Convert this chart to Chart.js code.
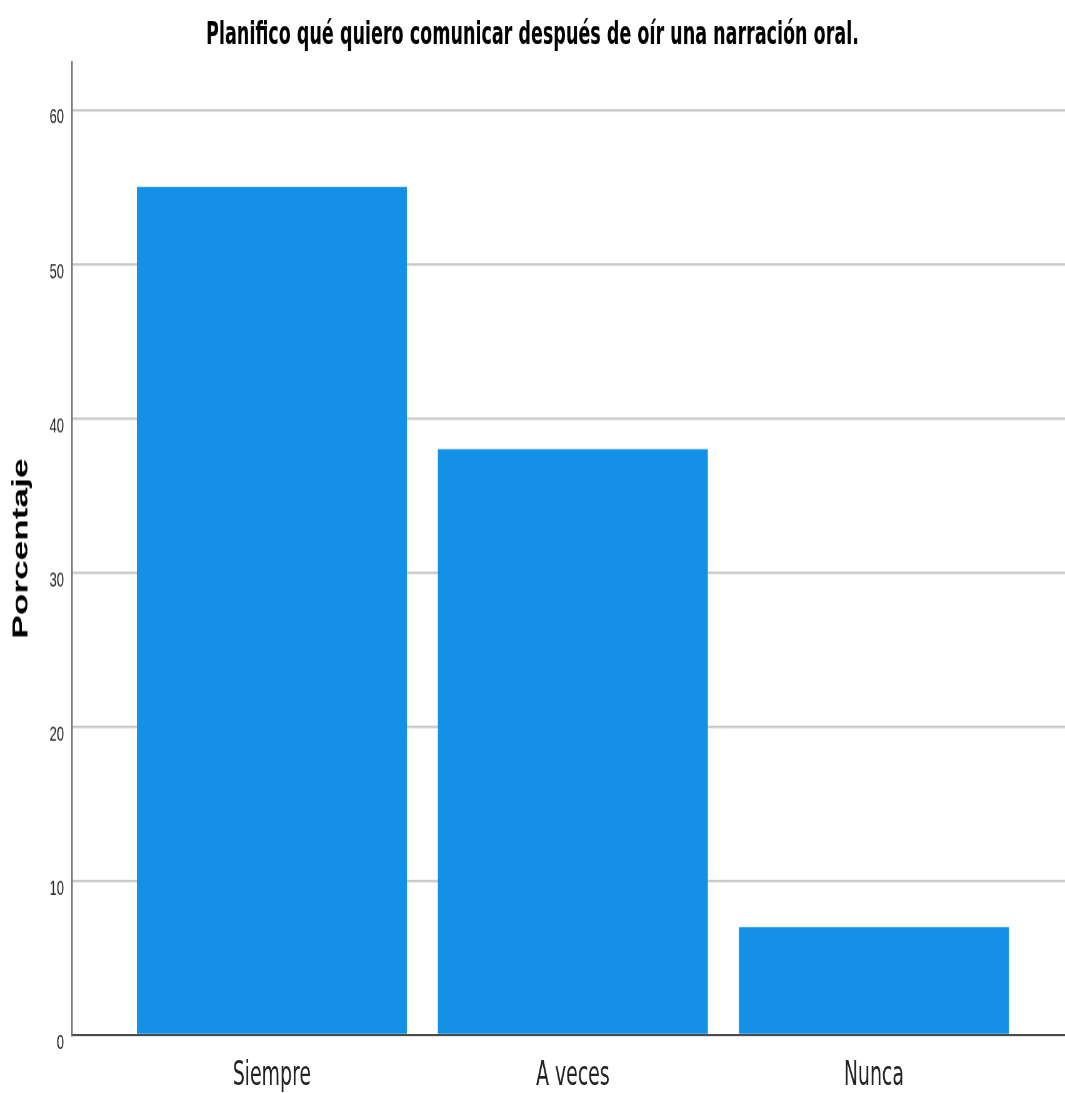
<!DOCTYPE html>
<html>
<head>
<meta charset="utf-8">
<script src="https://cdn.jsdelivr.net/npm/chart.js@4"></script>
<style>
  html, body { margin: 0; padding: 0; background: #fff; }
  canvas { display: block; }
</style>
</head>
<body>
<!-- the reference picture is stretched vertically, so the chart is drawn on a shorter
     canvas and the canvas is displayed taller -->
<canvas id="barChart" width="1065" height="683" style="width:1065px;height:1093px;"></canvas>
<script>
const chartTitle = "Planifico qué quiero comunicar después de oír una narración oral.";
const yAxisTitle = "Porcentaje";
const categories = ["Siempre", "A veces", "Nunca"];
const percentages = [55, 38, 7];
const yTicks = [0, 10, 20, 30, 40, 50, 60];

const narrowFont = "'Liberation Sans Narrow', 'Arial Narrow', 'DejaVu Sans Condensed', sans-serif";
const plainFont = "'Liberation Sans', Arial, sans-serif";

document.addEventListener("DOMContentLoaded", () => {
  const ctx = document.getElementById("barChart").getContext("2d");

  new Chart(ctx, {
    type: "bar",
    data: {
      datasets: [{
        label: yAxisTitle,
        data: categories.map((name, i) => ({ x: i + 1, y: percentages[i] })),
        backgroundColor: "#1491e6",
        borderWidth: 0,
        barPercentage: 0.897,
        categoryPercentage: 1
      }]
    },
    options: {
      responsive: false,
      devicePixelRatio: 1.6,
      animation: false,
      layout: { padding: 0 },
      plugins: {
        legend: { display: false },
        tooltip: { enabled: false },
        title: {
          display: true,
          text: chartTitle,
          color: "#000",
          font: { family: narrowFont, size: 19.5, weight: "bold" },
          padding: { top: 11, bottom: 4.35 }
        }
      },
      scales: {
        x: {
          type: "linear",
          min: 0.336,
          max: 3.635,
          offset: false,
          afterBuildTicks: (scale) => {
            scale.ticks = categories.map((name, i) => ({ value: i + 1 }));
          },
          afterFit: (scale) => {
            scale.height = 36.75;
          },
          grid: { display: false, drawTicks: false, offset: false },
          border: { display: true, color: "#4a4a4a", width: 1.3 },
          ticks: {
            autoSkip: false,
            maxRotation: 0,
            padding: 13,
            color: "#222",
            font: { family: narrowFont, size: 21 },
            callback: (value) => categories[value - 1] ?? ""
          }
        },
        y: {
          min: 0,
          max: 63.1,
          afterBuildTicks: (scale) => {
            scale.ticks = yTicks.map((v) => ({ value: v }));
          },
          afterFit: (scale) => {
            scale.width = 72;
          },
          grid: { color: "#c9c9c9", lineWidth: 1.5, drawTicks: false },
          border: { display: true, color: "#6a6a6a", width: 1.5 },
          ticks: {
            padding: 8,
            labelOffset: 5,
            color: "#222",
            font: { family: plainFont, size: 13 }
          },
          title: {
            display: true,
            text: yAxisTitle,
            color: "#000",
            padding: { top: 8, bottom: 0 },
            font: { family: plainFont, size: 22, weight: "bold" }
          }
        }
      }
    }
  });
});
</script>
</body>
</html>
